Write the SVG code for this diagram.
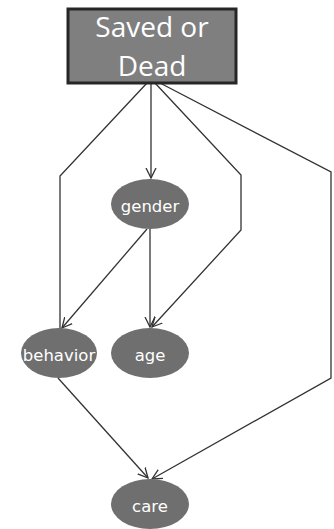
<svg xmlns="http://www.w3.org/2000/svg" width="334" height="529" viewBox="0 0 334 529">
<style>
.edge{fill:none;stroke:#333;stroke-width:1.3;marker-end:url(#arr)}
.node ellipse{fill:#6f6f6f}
.node text{fill:#fff;font-family:"DejaVu Sans",sans-serif;font-size:16.5px;text-anchor:middle}
.box{fill:#7f7f7f;stroke:#262626;stroke-width:3}
.node text.boxt{font-family:"Open Sans",sans-serif;font-size:28px}
</style>
<defs>
<marker id="arr" markerWidth="12" markerHeight="12" refX="10" refY="5" orient="auto" markerUnits="userSpaceOnUse" viewBox="0 0 12 10">
<path d="M0,0 L10,5 L0,10" fill="none" stroke="#333" stroke-width="1.3"/>
</marker>
</defs>
<rect width="334" height="529" fill="#fff"/>
<g id="connectors">
<polyline class="edge" points="147,83 60,176 60,340"/>
<polyline class="edge" points="151,83 151,178"/>
<polyline class="edge" points="155,83 241,175 241,230 152,327"/>
<polyline class="edge" points="160,83 331,172 331,378 152,479"/>
<polyline class="edge" points="147,229 62,328"/>
<polyline class="edge" points="150,229 150,327"/>
<polyline class="edge" points="58,378 148,478"/>
</g>
<g id="saved" class="node">
<rect class="box" x="68" y="9" width="168" height="74"/>
<text class="boxt" x="152" y="37">Saved or</text>
<text class="boxt" x="152" y="76">Dead</text>
</g>
<g id="gender" class="node">
<ellipse cx="150" cy="204" rx="39" ry="25"/>
<text x="150" y="212">gender</text>
</g>
<g id="behavior" class="node">
<ellipse cx="59" cy="353" rx="38" ry="25"/>
<text x="59" y="361">behavior</text>
</g>
<g id="age" class="node">
<ellipse cx="150" cy="353" rx="39" ry="25"/>
<text x="150" y="361">age</text>
</g>
<g id="care" class="node">
<ellipse cx="150" cy="504" rx="39" ry="25"/>
<text x="150" y="512">care</text>
</g>
</svg>
